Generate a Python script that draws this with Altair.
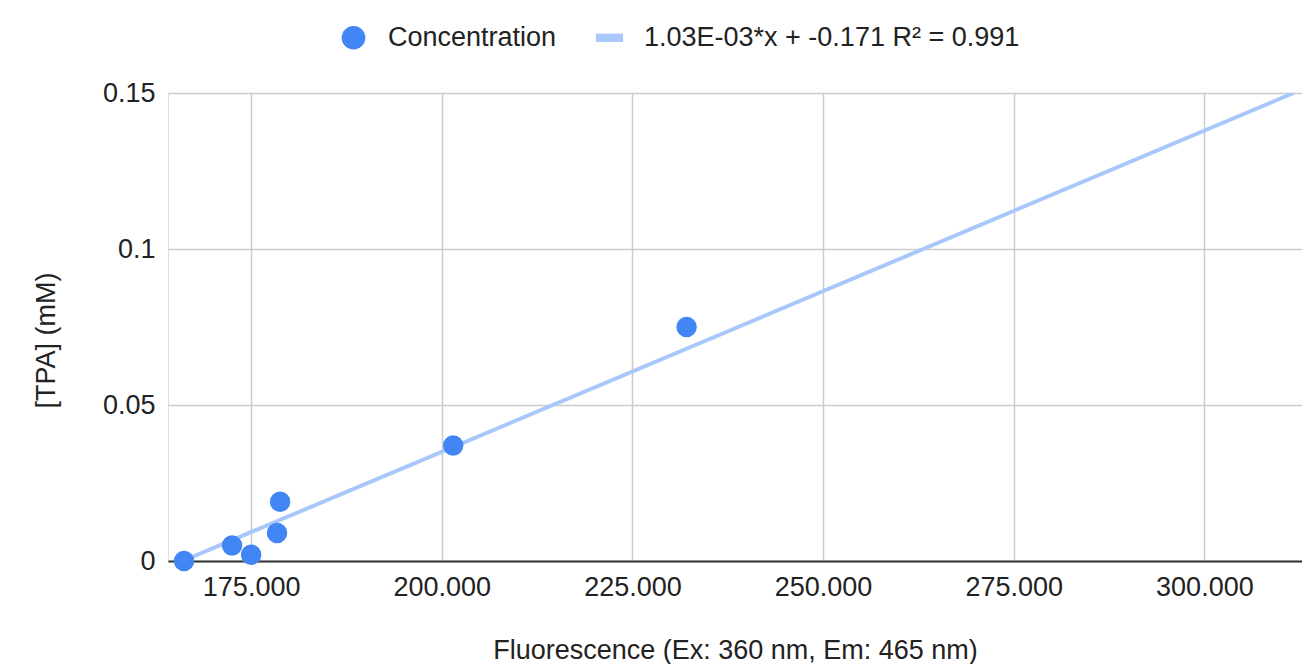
import altair as alt
import pandas as pd

# Data
fluorescence = [166.2, 172.5, 175.0, 178.4, 178.8, 201.5, 232.1]
concentration = [0.0, 0.005, 0.002, 0.009, 0.019, 0.037, 0.075]

trend_label = "1.03E-03*x + -0.171 R² = 0.991"
trend_x = [166.0, 311.7]
trend_y = [0.0, 0.15]

series_names = ["Concentration", trend_label]

pts = pd.DataFrame({"x": fluorescence, "y": concentration, "series": "Concentration"})
trend = pd.DataFrame({"x": trend_x, "y": trend_y, "series": trend_label})

FONT = "Liberation Sans"
FS = 27

xscale = alt.Scale(domain=[164.1, 312.8], nice=False, zero=False)
yscale = alt.Scale(domain=[0, 0.15], nice=False)
color_scale = alt.Scale(domain=series_names, range=["#4285F4", "#A8C7FA"])
shape_scale = alt.Scale(domain=series_names,
                        range=["circle", "M-1.15,-0.35L1.15,-0.35L1.15,0.35L-1.15,0.35Z"])

legend = alt.Legend(title=None, orient="none", direction="horizontal",
                    legendX=172, legendY=-69, padding=0,
                    symbolSize=560, symbolStrokeWidth=0,
                    symbolOpacity=1, symbolType="circle",
                    labelFont=FONT, labelFontSize=FS, labelLimit=1000,
                    labelColor="#222222", labelOffset=21,
                    columnPadding=38)

xaxis = alt.Axis(
    title="Fluorescence (Ex: 360 nm, Em: 465 nm)",
    values=[175, 200, 225, 250, 275, 300],
    format=".3f",
    grid=True, gridColor="#cccccc", gridWidth=1.5,
    ticks=False, domain=True, domainColor="#333333", domainWidth=2,
    labelFont=FONT, labelFontSize=FS, labelColor="#222222", labelPadding=13,
    titleFont=FONT, titleFontSize=FS, titleColor="#222222", titleFontWeight="normal",
    titlePadding=37,
)
yaxis = alt.Axis(
    title="[TPA] (mM)",
    values=[0, 0.05, 0.1, 0.15],
    format="~g",
    grid=True, gridColor="#cccccc", gridWidth=1.5,
    ticks=False, domain=False,
    labelFont=FONT, labelFontSize=FS, labelColor="#222222", labelPadding=13,
    titleFont=FONT, titleFontSize=FS, titleColor="#222222", titleFontWeight="normal",
    titlePadding=42, titleY=247,
)

line = alt.Chart(trend).mark_line(strokeWidth=4, clip=True).encode(
    x=alt.X("x:Q", scale=xscale, axis=xaxis),
    y=alt.Y("y:Q", scale=yscale, axis=yaxis),
    color=alt.Color("series:N", scale=color_scale, legend=legend),
)

points = alt.Chart(pts).mark_point(filled=True, size=420, opacity=1).encode(
    x=alt.X("x:Q", scale=xscale),
    y=alt.Y("y:Q", scale=yscale),
    color=alt.Color("series:N", scale=color_scale, legend=legend),
    shape=alt.Shape("series:N", scale=shape_scale, legend=legend),
)

chart = alt.layer(line, points).properties(
    width=1134, height=468,
    autosize=alt.AutoSizeParams(type="none"),
    padding={"left": 160, "top": 85, "right": 0, "bottom": 103},
).configure_view(stroke=None).configure(background="white")

chart.save("out.html", embed_options={"renderer": "svg", "actions": False})
